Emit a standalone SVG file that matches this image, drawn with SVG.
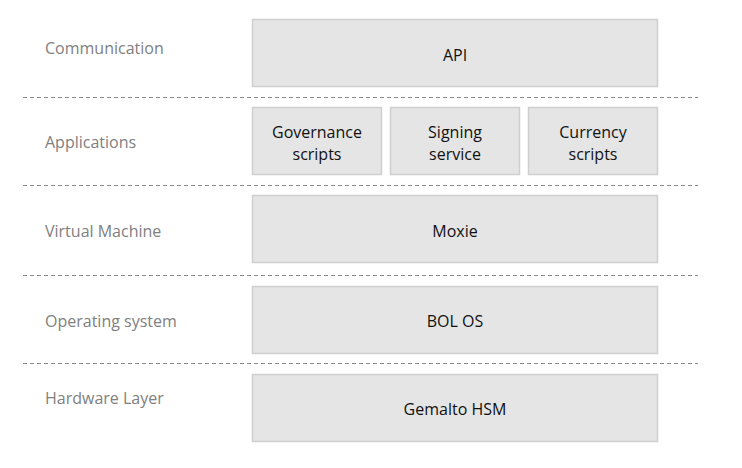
<svg xmlns="http://www.w3.org/2000/svg" width="742" height="468" viewBox="0 0 742 468">
<style>
.box{fill:#e5e5e5;stroke:#cfcfcf;stroke-width:1.5}
.t{font-family:"Open Sans","Liberation Sans",sans-serif;font-size:16px;fill:#111;text-anchor:middle}
.lbl{font-family:"Open Sans","Liberation Sans",sans-serif;font-size:16px;fill:#808080}
.sep{stroke:#8a8a8a;stroke-width:1;stroke-dasharray:4 3;fill:none}
</style>
<rect width="742" height="468" fill="#fff"/>
<g id="layer-labels">
<text class="lbl" x="45" y="54.3">Communication</text>
<text class="lbl" x="45" y="147.7">Applications</text>
<text class="lbl" x="45" y="237.3">Virtual Machine</text>
<text class="lbl" x="45" y="326.7">Operating system</text>
<text class="lbl" x="45" y="404.3">Hardware Layer</text>
</g>
<g id="separators">
<line class="sep" x1="23" y1="97.5" x2="698" y2="97.5"/>
<line class="sep" x1="23" y1="185.5" x2="698" y2="185.5"/>
<line class="sep" x1="23" y1="275.5" x2="698" y2="275.5"/>
<line class="sep" x1="23" y1="363.5" x2="698" y2="363.5"/>
</g>
<g id="api"><rect class="box" x="252.5" y="19.5" width="405" height="67"/><text class="t" x="455" y="61">API</text></g>
<g id="governance"><rect class="box" x="252.5" y="107.5" width="129" height="67"/><text class="t" x="317" y="137.7">Governance</text><text class="t" x="317" y="160">scripts</text></g>
<g id="signing"><rect class="box" x="390.5" y="107.5" width="129" height="67"/><text class="t" x="455" y="137.7">Signing</text><text class="t" x="455" y="160">service</text></g>
<g id="currency"><rect class="box" x="528.5" y="107.5" width="129" height="67"/><text class="t" x="593" y="137.7">Currency</text><text class="t" x="593" y="160">scripts</text></g>
<g id="moxie"><rect class="box" x="252.5" y="195.5" width="405" height="67"/><text class="t" x="455" y="237.3">Moxie</text></g>
<g id="bolos"><rect class="box" x="252.5" y="286.5" width="405" height="67"/><text class="t" x="455" y="327">BOL OS</text></g>
<g id="gemalto"><rect class="box" x="252.5" y="374.5" width="405" height="67"/><text class="t" x="455" y="415.3">Gemalto HSM</text></g>
<g id="connectors"></g>
</svg>
